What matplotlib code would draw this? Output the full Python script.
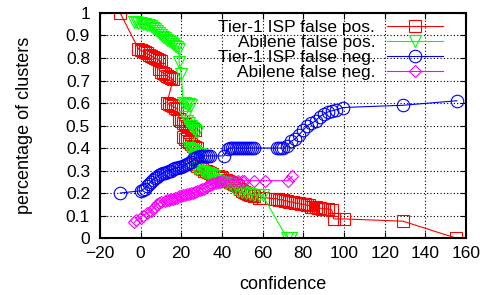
import matplotlib
matplotlib.use('Agg')
import matplotlib.pyplot as plt

plt.rcParams['font.family'] = ['Liberation Sans', 'DejaVu Sans']

# Tier-1 ISP false positives
t1_fp_x = [-10, -1, 0, 1, 2, 3, 4, 5, 6, 7, 8, 9, 10,
           9, 10, 11, 12, 13, 14, 15, 16,
           13, 14, 15, 16, 17, 18,
           19, 20, 21, 22, 23, 24, 25, 26, 27,
           21, 22, 23, 24, 25, 26, 27, 28,
           27, 28, 29, 30, 31, 32, 33, 34, 35,
           38, 39, 40, 41, 42, 43, 44, 45, 46, 47, 48,
           49, 50, 51, 52, 53, 54, 55, 56, 58, 60,
           66, 67, 68, 69, 70, 71, 72, 73, 74, 75, 76, 77, 78, 79, 80,
           81, 82, 83, 84, 85, 86, 87, 88, 89, 90, 92, 94,
           95, 100, 129, 155]
t1_fp_y = [1.00, 0.84, 0.835, 0.83, 0.825, 0.82, 0.815, 0.81, 0.805, 0.80, 0.795, 0.79, 0.785,
           0.75, 0.74, 0.735, 0.73, 0.72, 0.715, 0.71, 0.705,
           0.60, 0.595, 0.59, 0.585, 0.58, 0.575,
           0.53, 0.52, 0.51, 0.505, 0.50, 0.495, 0.49, 0.485, 0.48,
           0.45, 0.44, 0.43, 0.425, 0.42, 0.41, 0.405, 0.40,
           0.33, 0.32, 0.31, 0.305, 0.30, 0.30, 0.295, 0.29, 0.285,
           0.275, 0.27, 0.265, 0.26, 0.26, 0.255, 0.25, 0.245, 0.24, 0.235, 0.23,
           0.22, 0.21, 0.205, 0.20, 0.195, 0.19, 0.19, 0.185, 0.18, 0.18,
           0.175, 0.175, 0.17, 0.17, 0.17, 0.165, 0.165, 0.16, 0.16, 0.16, 0.155, 0.155, 0.155, 0.15, 0.15,
           0.15, 0.145, 0.145, 0.14, 0.14, 0.14, 0.135, 0.135, 0.13, 0.13, 0.13, 0.125,
           0.085, 0.085, 0.075, 0.0]

# Abilene false positives
ab_fp_x = [-3, -2, -1, 0, 1, 2, 3, 4, 5, 6, 7, 8, 9, 10, 11, 12, 13, 14, 15, 16, 17, 18, 19,
           19, 20,
           21, 22, 23, 24, 25,
           22, 23, 24, 25, 26, 27, 28,
           24, 25, 26, 27, 28, 29,
           27, 28, 30, 31, 32, 33, 34, 35, 36,
           37, 38, 40, 42, 44,
           46, 48, 50, 52, 54, 56, 58, 60,
           72, 74]
ab_fp_y = [0.96, 0.96, 0.955, 0.955, 0.95, 0.95, 0.945, 0.945, 0.94, 0.935, 0.93, 0.92, 0.91, 0.90,
           0.895, 0.89, 0.88, 0.875, 0.87, 0.86, 0.855, 0.85, 0.84,
           0.78, 0.73,
           0.60, 0.60, 0.595, 0.595, 0.59,
           0.54, 0.52, 0.51, 0.50, 0.49, 0.48, 0.47,
           0.40, 0.395, 0.39, 0.385, 0.38, 0.375,
           0.31, 0.305, 0.30, 0.295, 0.29, 0.29, 0.285, 0.28, 0.275,
           0.26, 0.255, 0.25, 0.245, 0.24,
           0.22, 0.21, 0.205, 0.20, 0.195, 0.19, 0.19, 0.19,
           0.0, 0.0]

# Tier-1 ISP false negatives
t1_fn_x = [-10, 0, 1, 2, 3, 4, 5, 6, 7, 8, 9, 10, 11, 12, 13, 14, 15, 16, 17, 18, 19,
           20, 21, 22, 23, 24, 25, 26, 27, 28, 29, 30, 31, 32, 33, 34,
           41, 43, 44, 45, 46, 47, 48, 49, 50, 51, 52, 53, 54, 55, 56,
           67, 68, 69, 70, 72, 74, 76, 78, 80, 82, 84, 86, 88, 90, 92, 94, 96,
           99.5, 129, 155.5]
t1_fn_y = [0.20, 0.21, 0.215, 0.22, 0.23, 0.24, 0.25, 0.26, 0.265, 0.27, 0.28, 0.285, 0.29,
           0.29, 0.295, 0.30, 0.30, 0.305, 0.31, 0.31, 0.315,
           0.315, 0.32, 0.325, 0.33, 0.335, 0.34, 0.35, 0.355, 0.36, 0.365, 0.365, 0.365, 0.365, 0.365, 0.365,
           0.365, 0.395, 0.40, 0.40, 0.40, 0.40, 0.40, 0.40, 0.40, 0.40, 0.40, 0.40, 0.40, 0.40, 0.40,
           0.40, 0.40, 0.40, 0.40, 0.41, 0.43, 0.44, 0.46, 0.48, 0.50, 0.51, 0.52, 0.54, 0.55, 0.56, 0.565, 0.57,
           0.58, 0.59, 0.61]

# Abilene false negatives
ab_fn_x = [-3, -2, 0, 1, 3, 5, 6, 7, 8, 9, 10, 12, 13, 14, 15, 16, 17, 18, 19,
           20, 21, 22, 23, 24, 25, 26, 27, 28, 29, 30, 31, 32, 33, 34, 35, 36, 37, 38, 39,
           40, 42, 44, 46, 48, 50, 51, 56, 61,
           72.5, 74.5]
ab_fn_y = [0.07, 0.08, 0.09, 0.10, 0.11, 0.12, 0.13, 0.14, 0.15, 0.155, 0.16, 0.165, 0.17, 0.17,
           0.175, 0.175, 0.18, 0.18, 0.185,
           0.185, 0.19, 0.19, 0.195, 0.195, 0.20, 0.20, 0.205, 0.21, 0.215, 0.22, 0.22, 0.225, 0.23,
           0.235, 0.24, 0.245, 0.245, 0.25, 0.25,
           0.255, 0.255, 0.255, 0.255, 0.255, 0.255, 0.255, 0.255, 0.255,
           0.255, 0.275]

x_ticks = [-20, 0, 20, 40, 60, 80, 100, 120, 140, 160]
y_ticks = [0, 0.1, 0.2, 0.3, 0.4, 0.5, 0.6, 0.7, 0.8, 0.9, 1]
y_labels = ['0', '0.1', '0.2', '0.3', '0.4', '0.5', '0.6', '0.7', '0.8', '0.9', '1']

fig = plt.figure(figsize=(4.87, 2.95), dpi=100)
ax = fig.add_axes([0.205, 0.193, 0.752, 0.763])

common = dict(linewidth=0.8, markerfacecolor='none', markeredgewidth=0.8)
ax.plot(t1_fp_x, t1_fp_y, color='#ff0000', marker='s', markersize=8.5,
        label='Tier-1 ISP false pos.', **common)
ax.plot(ab_fp_x, ab_fp_y, color='#00ff00', marker='v', markersize=9,
        label='Abilene false pos.', **common)
ax.plot(t1_fn_x, t1_fn_y, color='#0000ff', marker='o', markersize=9,
        label='Tier-1 ISP false neg.', **common)
ax.plot(ab_fn_x, ab_fn_y, color='#ff00ff', marker='D', markersize=6.5,
        label='Abilene false neg.', **common)

ax.set_xlim(-20, 160)
ax.set_ylim(0, 1)
ax.set_xticks(x_ticks)
ax.set_yticks(y_ticks)
ax.set_yticklabels(y_labels)
ax.grid(color='black', linestyle=(0, (1, 2)), linewidth=0.8)
ax.set_axisbelow(True)
ax.tick_params(direction='in', top=True, right=True, length=4, width=0.8, labelsize=12.5)
ax.tick_params(axis='x', pad=5.5)
ax.tick_params(axis='y', pad=7)
for s in ax.spines.values():
    s.set_linewidth(1.5)

ax.set_xlabel('confidence', fontsize=13, labelpad=11)
ax.set_ylabel('percentage of clusters', fontsize=13, labelpad=24)

ax.legend(loc='upper right', bbox_to_anchor=(0.937, 0.971), frameon=False, markerfirst=False,
          fontsize=12.5, handlelength=3.2, handletextpad=0.7, labelspacing=0.0,
          borderaxespad=0, borderpad=0, numpoints=1)

fig.savefig('out.png', dpi=100)
